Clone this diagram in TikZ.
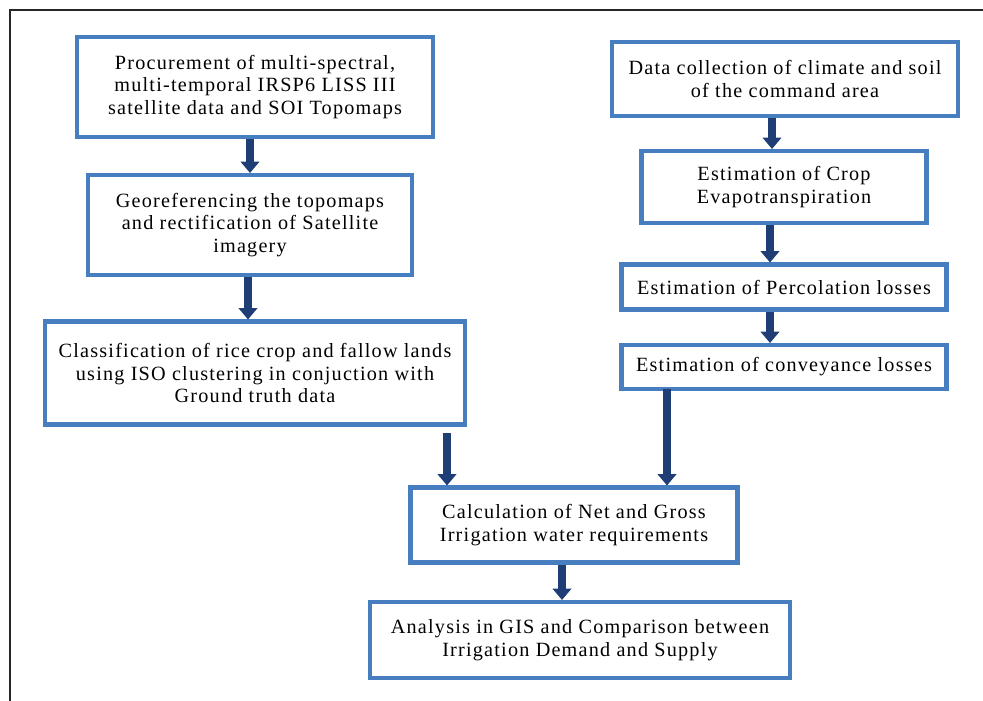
\documentclass[tikz,border=0pt]{standalone}
\usepackage{fontspec}
\setmainfont{Liberation Serif}[LetterSpace=6]
\usetikzlibrary{arrows.meta,positioning}

\begin{document}
\begin{tikzpicture}[
  x=0.02cm,y=-0.02cm,
  font=\fontsize{11.5}{12.8}\selectfont,
  stage/.style={draw=boxblue,line width=2.3pt,align=center,fill=white,inner sep=2pt},
  flow/.style={draw=arrowblue,line width=4.2pt,-{Triangle[width=10.5pt,length=6.5pt]}}
]
  \definecolor{boxblue}{RGB}{70,126,192}
  \definecolor{arrowblue}{RGB}{31,62,118}
  \useasboundingbox (0,0) rectangle (983,700);
  % outer frame, cut off at right and bottom
  \draw[line width=1.2pt,black!85] (10,720) -- (10,10) -- (1000,10);

  % left branch
  \node[stage,minimum width=356*0.02cm,minimum height=100*0.02cm] (procure) at (255,87)
    {Procurement of multi-spectral,\\multi-temporal IRSP6 LISS III\\satellite data and SOI Topomaps};
  \node[stage,minimum width=324*0.02cm,minimum height=100*0.02cm] (georef) at (250,225)
    {Georeferencing the topomaps\\and rectification of Satellite\\imagery};
  \node[stage,minimum width=420*0.02cm,minimum height=103*0.02cm] (classify) at (255,373)
    {Classification of rice crop and fallow lands\\using ISO clustering in conjuction with\\Ground truth data};

  % right branch
  \node[stage,minimum width=346*0.02cm,minimum height=74*0.02cm] (climate) at (785,79)
    {Data collection of climate and soil\\of the command area};
  \node[stage,minimum width=285*0.02cm,minimum height=72*0.02cm] (evapo) at (784,187)
    {Estimation of Crop\\Evapotranspiration};
  \node[stage,minimum width=325*0.02cm,minimum height=45*0.02cm] (perco) at (784,287)
    {Estimation of Percolation losses};
  \node[stage,minimum width=325*0.02cm,minimum height=44*0.02cm] (convey) at (784,367)
    {Estimation of conveyance losses};

  % bottom
  \node[stage,minimum width=327*0.02cm,minimum height=75*0.02cm] (netgross) at (574,525)
    {Calculation of Net and Gross\\Irrigation water requirements};
  \node[stage,minimum width=420*0.02cm,minimum height=76*0.02cm] (analysis) at (580,640)
    {Analysis in GIS and Comparison between\\Irrigation Demand and Supply};

  \coordinate (lefttap) at (447,433);
  \coordinate (righttap) at (667,389);

  \draw[flow] (procure.south -| 250,0) -- (georef.north -| 250,0);
  \draw[flow] (georef.south -| 248,0) -- (classify.north -| 248,0);
  \draw[flow] (climate.south -| 772,0) -- (evapo.north -| 772,0);
  \draw[flow] (evapo.south -| 770,0) -- (perco.north -| 770,0);
  \draw[flow] (perco.south -| 770,0) -- (convey.north -| 770,0);
  \draw[flow] (lefttap) -- (lefttap |- netgross.north);
  \draw[flow] (righttap) -- (righttap |- netgross.north);
  \draw[flow] (netgross.south -| 562,0) -- (analysis.north -| 562,0);
\end{tikzpicture}
\end{document}
